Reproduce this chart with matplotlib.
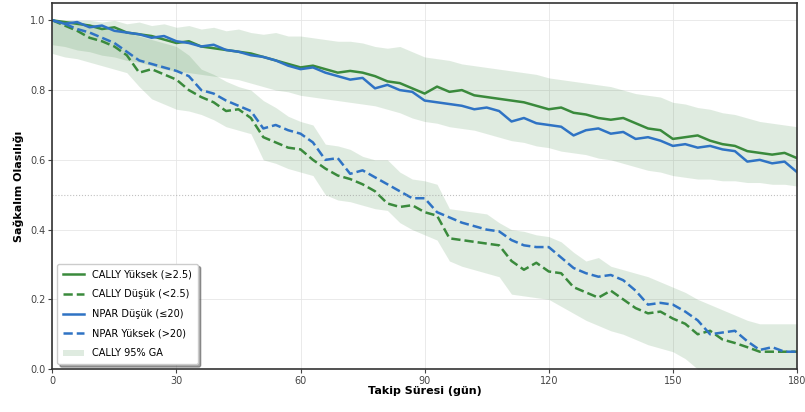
import numpy as np
import matplotlib
matplotlib.use('Agg')
import matplotlib.pyplot as plt

plt.rcParams['font.family'] = ['DejaVu Sans']

# follow-up days (3-day grid)
days = np.arange(0, 181, 3)

cally_high = [1.00, 0.995, 0.99, 0.985, 0.975, 0.98, 0.965, 0.96, 0.955, 0.945,
              0.935, 0.94, 0.925, 0.92, 0.915, 0.91, 0.905, 0.895, 0.885, 0.875,
              0.865, 0.87, 0.86, 0.85, 0.855, 0.85, 0.84, 0.825, 0.82, 0.805,
              0.79, 0.81, 0.795, 0.80, 0.785, 0.78, 0.775, 0.77, 0.765, 0.755,
              0.745, 0.75, 0.735, 0.73, 0.72, 0.715, 0.72, 0.705, 0.69, 0.685,
              0.66, 0.665, 0.67, 0.655, 0.645, 0.64, 0.625, 0.62, 0.615, 0.62,
              0.605]
cally_low = [1.00, 0.985, 0.97, 0.95, 0.94, 0.925, 0.90, 0.85, 0.86, 0.845,
             0.83, 0.80, 0.78, 0.765, 0.74, 0.745, 0.72, 0.665, 0.65, 0.635,
             0.63, 0.60, 0.575, 0.555, 0.545, 0.53, 0.51, 0.475, 0.465, 0.47,
             0.45, 0.44, 0.375, 0.37, 0.365, 0.36, 0.355, 0.31, 0.285, 0.305,
             0.28, 0.275, 0.235, 0.22, 0.205, 0.225, 0.20, 0.175, 0.16, 0.165,
             0.145, 0.13, 0.10, 0.11, 0.085, 0.075, 0.063, 0.05, 0.05, 0.05,
             0.05]
npar_low = [1.00, 0.99, 0.995, 0.98, 0.985, 0.97, 0.965, 0.96, 0.95, 0.955,
            0.94, 0.935, 0.925, 0.93, 0.915, 0.91, 0.90, 0.895, 0.885, 0.87,
            0.86, 0.865, 0.85, 0.84, 0.83, 0.835, 0.805, 0.815, 0.80, 0.795,
            0.77, 0.765, 0.76, 0.755, 0.745, 0.75, 0.74, 0.71, 0.72, 0.705,
            0.70, 0.695, 0.67, 0.685, 0.69, 0.675, 0.68, 0.66, 0.665, 0.655,
            0.64, 0.645, 0.635, 0.64, 0.63, 0.625, 0.595, 0.60, 0.59, 0.595,
            0.565]
npar_high = [1.00, 0.99, 0.975, 0.965, 0.95, 0.935, 0.91, 0.885, 0.875, 0.865,
             0.855, 0.84, 0.80, 0.79, 0.77, 0.755, 0.74, 0.69, 0.70, 0.685,
             0.675, 0.65, 0.60, 0.605, 0.56, 0.57, 0.55, 0.53, 0.51, 0.49,
             0.49, 0.45, 0.435, 0.42, 0.41, 0.40, 0.395, 0.37, 0.355, 0.35,
             0.35, 0.32, 0.29, 0.275, 0.265, 0.27, 0.255, 0.225, 0.185, 0.19,
             0.185, 0.165, 0.14, 0.10, 0.105, 0.11, 0.08, 0.055, 0.063, 0.05,
             0.05]

# 95% CI bands for the two CALLY groups
high_ci_up = [1.0, 1.0, 1.0, 1.0, 0.995, 1.0, 0.99, 0.995, 0.985, 0.99,
              0.98, 0.985, 0.975, 0.98, 0.97, 0.975, 0.965, 0.96, 0.965, 0.955,
              0.955, 0.95, 0.945, 0.94, 0.94, 0.935, 0.925, 0.92, 0.925, 0.91,
              0.895, 0.89, 0.885, 0.875, 0.87, 0.865, 0.86, 0.855, 0.85, 0.845,
              0.835, 0.83, 0.825, 0.82, 0.815, 0.81, 0.80, 0.79, 0.785, 0.78,
              0.765, 0.76, 0.75, 0.745, 0.735, 0.73, 0.72, 0.71, 0.705, 0.70,
              0.695]
high_ci_lo = [0.93, 0.925, 0.915, 0.91, 0.90, 0.895, 0.885, 0.88, 0.87, 0.86,
              0.855, 0.85, 0.845, 0.84, 0.835, 0.83, 0.82, 0.81, 0.80, 0.795,
              0.785, 0.78, 0.775, 0.77, 0.765, 0.76, 0.755, 0.745, 0.735, 0.72,
              0.71, 0.705, 0.695, 0.69, 0.685, 0.675, 0.665, 0.655, 0.65, 0.64,
              0.635, 0.625, 0.62, 0.615, 0.605, 0.60, 0.59, 0.58, 0.57, 0.565,
              0.555, 0.55, 0.545, 0.545, 0.54, 0.54, 0.535, 0.535, 0.53, 0.53,
              0.525]
low_ci_up = [1.0, 1.0, 0.995, 0.99, 0.985, 0.975, 0.965, 0.955, 0.945, 0.935,
             0.925, 0.90, 0.86, 0.845, 0.825, 0.81, 0.80, 0.77, 0.75, 0.725,
             0.71, 0.70, 0.645, 0.64, 0.63, 0.61, 0.60, 0.60, 0.565, 0.545,
             0.54, 0.53, 0.46, 0.455, 0.45, 0.445, 0.42, 0.40, 0.395, 0.385,
             0.38, 0.365, 0.335, 0.31, 0.32, 0.295, 0.285, 0.275, 0.265, 0.25,
             0.235, 0.22, 0.20, 0.185, 0.17, 0.155, 0.14, 0.13, 0.13, 0.13,
             0.13]
low_ci_lo = [0.905, 0.895, 0.89, 0.88, 0.87, 0.86, 0.85, 0.81, 0.775, 0.76,
             0.745, 0.74, 0.73, 0.715, 0.695, 0.685, 0.675, 0.60, 0.59, 0.575,
             0.565, 0.555, 0.50, 0.485, 0.48, 0.47, 0.46, 0.455, 0.42, 0.40,
             0.385, 0.37, 0.31, 0.295, 0.285, 0.275, 0.265, 0.215, 0.21, 0.205,
             0.20, 0.18, 0.16, 0.14, 0.125, 0.11, 0.10, 0.085, 0.07, 0.06,
             0.05, 0.03, 0.0, 0.0, 0.0, 0.0, 0.0, 0.0, 0.0, 0.0,
             0.0]

green = '#3a8a3c'
blue = '#2f73c4'
band = '#2e7d32'

fig = plt.figure(figsize=(8.05, 4.12), dpi=100)
ax = fig.add_axes([0.065, 0.104, 0.925, 0.889])

ax.fill_between(days, high_ci_lo, high_ci_up, color=band, alpha=0.15, lw=0,
                label='CALLY 95% GA')
ax.fill_between(days, low_ci_lo, low_ci_up, color=band, alpha=0.15, lw=0)

ax.plot(days, cally_high, color=green, lw=1.8, label='CALLY Yüksek (≥2.5)')
ax.plot(days, cally_low, color=green, lw=1.8, ls='--', label='CALLY Düşük (<2.5)')
ax.plot(days, npar_low, color=blue, lw=1.8, label='NPAR Düşük (≤20)')
ax.plot(days, npar_high, color=blue, lw=1.8, ls='--', label='NPAR Yüksek (>20)')

ax.axhline(0.5, color='#999999', ls=':', lw=0.8, alpha=0.6)
ax.grid(True, color='#e6e6e6', lw=0.6)
ax.set_axisbelow(True)

ax.set_xlim(0, 180)
ax.set_ylim(0, 1.05)
ax.set_xticks(np.arange(0, 181, 30))
ax.set_yticks(np.arange(0, 1.01, 0.2))
ax.tick_params(labelsize=7, colors='#444444', length=3, pad=2)
for s in ax.spines.values():
    s.set_linewidth(1.2)
    s.set_color('#333333')

ax.set_xlabel('Takip Süresi (gün)', fontsize=8, fontweight='bold', labelpad=0)
ax.set_ylabel('Sağkalım Olasılığı', fontsize=8, fontweight='bold', labelpad=4)

h, l = ax.get_legend_handles_labels()
order = [1, 2, 3, 4, 0]
ax.legend([h[i] for i in order], [l[i] for i in order], loc='lower left',
          fontsize=7, frameon=True, shadow=True, fancybox=True,
          handlelength=2.2, borderpad=0.6, labelspacing=1.0)

fig.savefig('out.png', dpi=100)
